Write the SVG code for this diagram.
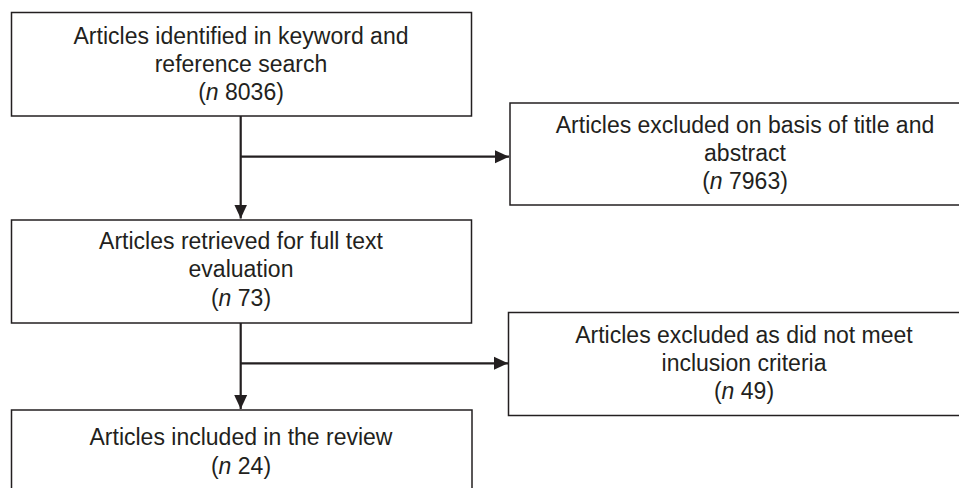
<svg xmlns="http://www.w3.org/2000/svg" width="959" height="488" viewBox="0 0 959 488">
<style>
  .box { fill: #ffffff; stroke: #231f20; stroke-width: 1.5; }
  .lbl { font-family: "Liberation Sans", Arial, sans-serif; font-size: 23px; fill: #231f20; text-anchor: middle; }
  .it { font-style: italic; }
  .con { fill: none; stroke: #231f20; stroke-width: 2.2; }
</style>
<defs>
  <marker id="arrow" viewBox="0 0 14 14" refX="14" refY="7" markerWidth="14" markerHeight="14" markerUnits="userSpaceOnUse" orient="auto">
    <path d="M0,0.5 L14,7 L0,13.5 Z" fill="#231f20"/>
  </marker>
</defs>
<rect width="959" height="488" fill="#ffffff"/>
<g id="connectors">
  <path class="con" d="M240.7,116 V218.5" marker-end="url(#arrow)"/>
  <path class="con" d="M240.7,156.7 H509" marker-end="url(#arrow)"/>
  <path class="con" d="M240.7,323 V409" marker-end="url(#arrow)"/>
  <path class="con" d="M240.7,363.3 H508" marker-end="url(#arrow)"/>
</g>
<g id="node-identified">
  <rect class="box" x="11.5" y="12.5" width="460" height="103.5"/>
  <text class="lbl" x="241" y="44">Articles identified in keyword and</text>
  <text class="lbl" x="241" y="72">reference search</text>
  <text class="lbl" x="241" y="100">(<tspan class="it">n</tspan> 8036)</text>
</g>
<g id="node-excluded-title">
  <rect class="box" x="510" y="103" width="480" height="102"/>
  <text class="lbl" x="745" y="133">Articles excluded on basis of title and</text>
  <text class="lbl" x="745" y="161">abstract</text>
  <text class="lbl" x="745" y="189">(<tspan class="it">n</tspan> 7963)</text>
</g>
<g id="node-retrieved">
  <rect class="box" x="11.5" y="220" width="460" height="103"/>
  <text class="lbl" x="241" y="248.5">Articles retrieved for full text</text>
  <text class="lbl" x="241" y="277">evaluation</text>
  <text class="lbl" x="241" y="305.5">(<tspan class="it">n</tspan> 73)</text>
</g>
<g id="node-excluded-criteria">
  <rect class="box" x="508.5" y="312.5" width="480" height="103"/>
  <text class="lbl" x="744" y="343">Articles excluded as did not meet</text>
  <text class="lbl" x="744" y="371">inclusion criteria</text>
  <text class="lbl" x="744" y="399">(<tspan class="it">n</tspan> 49)</text>
</g>
<g id="node-included">
  <rect class="box" x="11.5" y="410" width="460.5" height="100"/>
  <text class="lbl" x="241" y="445">Articles included in the review</text>
  <text class="lbl" x="241" y="474">(<tspan class="it">n</tspan> 24)</text>
</g>
</svg>
